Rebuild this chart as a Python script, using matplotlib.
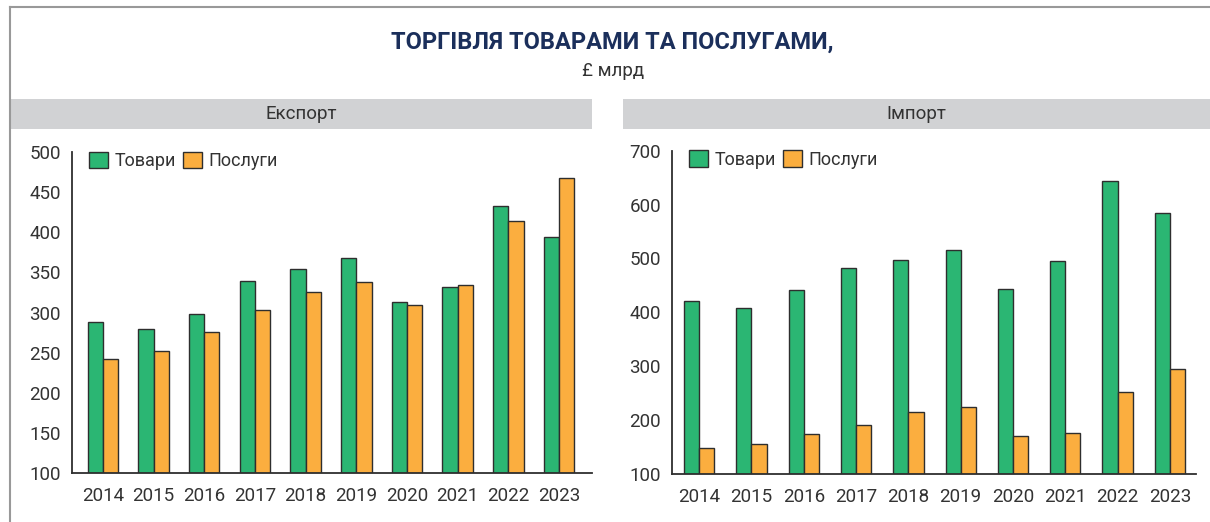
import numpy as np
import matplotlib.pyplot as plt
from matplotlib.patches import Rectangle, Patch
from matplotlib.lines import Line2D

plt.rcParams['font.family'] = ['Roboto', 'DejaVu Sans']

years = ['2014', '2015', '2016', '2017', '2018', '2019', '2020', '2021', '2022', '2023']
export_goods = [288, 280, 298, 339, 354, 368, 313, 332, 433, 394]
export_services = [242, 252, 276, 303, 326, 338, 310, 335, 414, 468]
import_goods = [421, 408, 441, 482, 497, 515, 444, 496, 644, 585]
import_services = [147, 155, 174, 190, 214, 224, 170, 176, 251, 295]

green = '#2bb673'
orange = '#fbae3f'
edge = '#2e2e2e'
text_col = '#333333'
head_col = '#d1d2d4'

fig = plt.figure(figsize=(12.1, 5.22), dpi=100)

# frame lines (left and top)
fig.add_artist(Line2D([10/1210, 10/1210], [0, 1 - 7/522], transform=fig.transFigure,
                      color='#999999', lw=1.5))
fig.add_artist(Line2D([10/1210, 1], [1 - 7/522, 1 - 7/522], transform=fig.transFigure,
                      color='#999999', lw=1.5))

fig.text(612/1210, 1 - 42/522, 'ТОРГІВЛЯ ТОВАРАМИ ТА ПОСЛУГАМИ,', ha='center', va='center',
         fontsize=17, fontweight='bold', color='#1b2f5b')
fig.text(613/1210, 1 - 71/522, '£ млрд', ha='center', va='center', fontsize=13.5, color=text_col)

# panel headers
for x0, x1, label in [(10, 592, 'Експорт'), (623, 1210, 'Імпорт')]:
    fig.add_artist(Rectangle((x0/1210, 1 - 129/522), (x1 - x0)/1210, 30/522,
                             transform=fig.transFigure, facecolor=head_col, edgecolor='none'))
    fig.text((x0 + x1)/2/1210, 1 - 114/522, label, ha='center', va='center',
             fontsize=13.5, color=text_col)


def panel(rect, goods, services, ylim, yticks, xlim, width):
    ax = fig.add_axes(rect)
    x = np.arange(len(years))
    ax.bar(x - width/2, goods, width, color=green, edgecolor=edge, linewidth=1)
    ax.bar(x + width/2, services, width, color=orange, edgecolor=edge, linewidth=1)
    ax.set_ylim(*ylim)
    ax.set_xlim(*xlim)
    ax.set_yticks(yticks)
    ax.set_xticks(x)
    ax.set_xticklabels(years)
    ax.tick_params(axis='both', length=0, labelsize=13.5, colors=text_col)
    ax.tick_params(axis='x', pad=10)
    ax.tick_params(axis='y', pad=8)
    for s in ['top', 'right']:
        ax.spines[s].set_visible(False)
    for s in ['left', 'bottom']:
        ax.spines[s].set_color(edge)
        ax.spines[s].set_linewidth(1.3)
    handles = [Patch(facecolor=green, edgecolor=edge, label='Товари'),
               Patch(facecolor=orange, edgecolor=edge, label='Послуги')]
    ax.legend(handles=handles, loc='upper left', bbox_to_anchor=(0.012, 1.035), ncol=2,
              frameon=False, fontsize=13, handlelength=1.05, handleheight=1.05,
              handletextpad=0.35, columnspacing=0.4, borderaxespad=0.2,
              labelcolor=text_col)
    return ax


panel([72/1210, 1 - 473.3/522, 520/1210, 321.3/522], export_goods, export_services,
      (100, 500), range(100, 501, 50), (-0.61, 9.65), 0.3)
panel([672/1210, 1 - 473.7/522, 524/1210, 323/522], import_goods, import_services,
      (100, 700), range(100, 701, 100), (-0.52, 9.5), 0.29)

fig.savefig('out.png', dpi=100)
